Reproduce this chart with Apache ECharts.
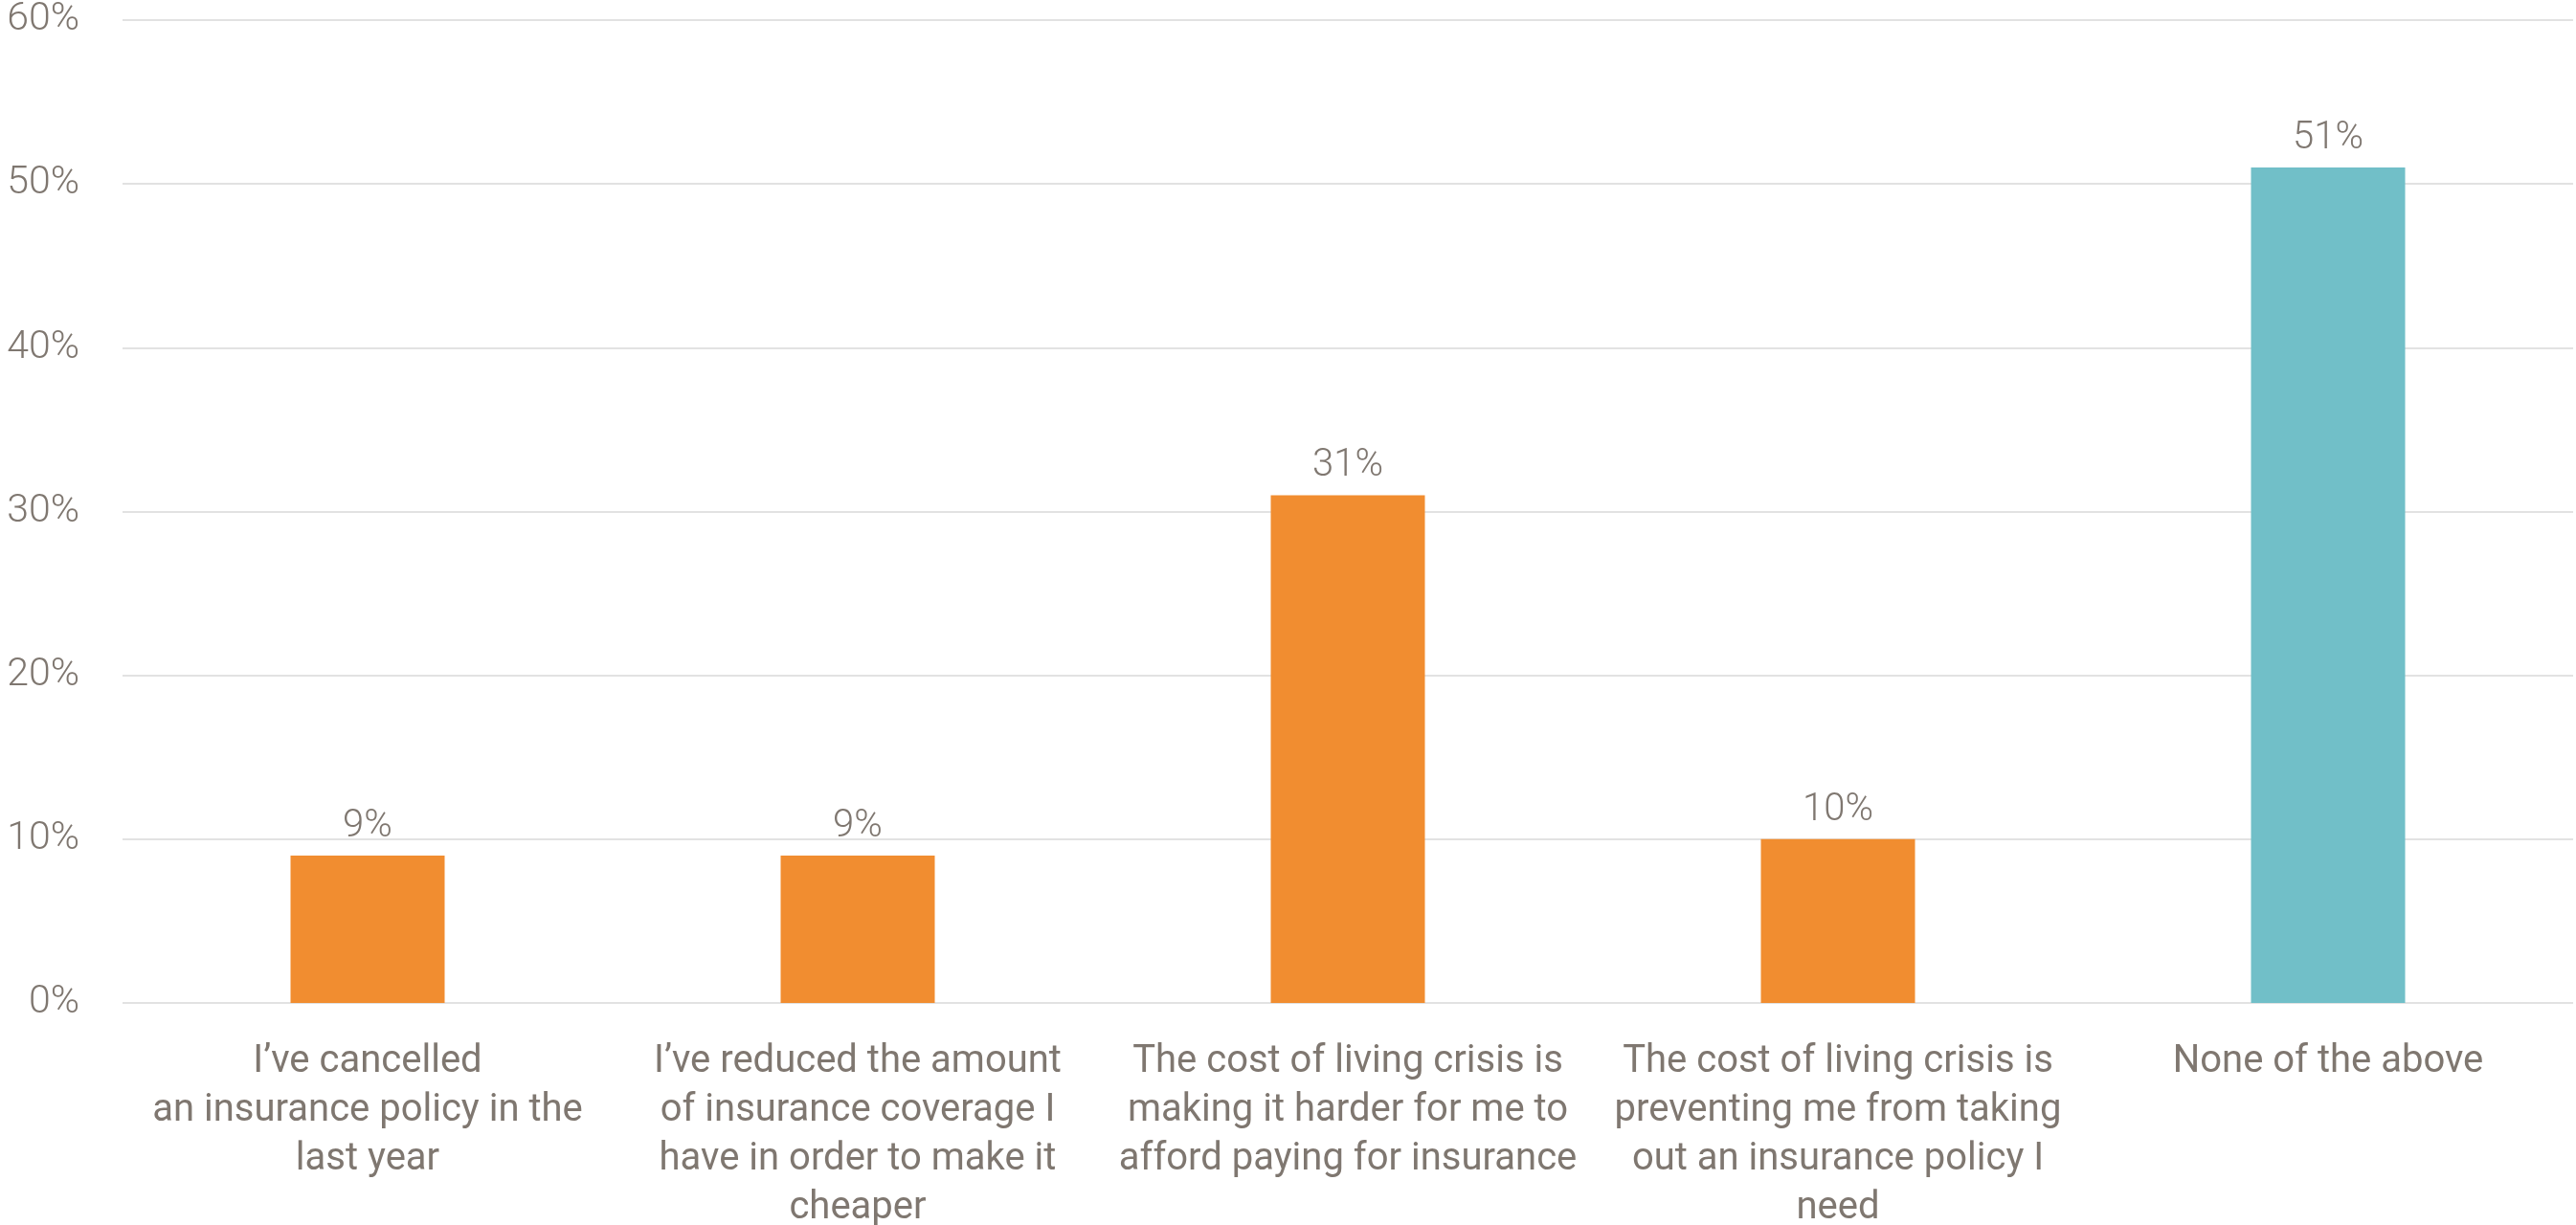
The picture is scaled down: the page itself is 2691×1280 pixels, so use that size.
<!DOCTYPE html>
<html>
<head>
<meta charset="utf-8">
<style>
  html, body { margin: 0; padding: 0; background: #ffffff; }
  #chart { width: 2691px; height: 1280px; }
</style>
<script src="https://cdn.jsdelivr.net/npm/echarts@6/dist/echarts.min.js"></script>
</head>
<body>
<div id="chart"></div>
<script>
// Survey responses on insurance and the cost of living
const categories = [
  "I\u2019ve cancelled\nan insurance policy in the\nlast year",
  "I\u2019ve reduced the amount\nof insurance coverage I\nhave in order to make it\ncheaper",
  "The cost of living crisis is\nmaking it harder for me to\nafford paying for insurance",
  "The cost of living crisis is\npreventing me from taking\nout an insurance policy I\nneed",
  "None of the above"
];
const values = [9, 9, 31, 10, 51];
const yTicks = [0, 10, 20, 30, 40, 50, 60];

const ORANGE = '#F18D30';
const TEAL = '#71BFC8';
const TEXT = '#7F7770';
const FONT = 'Roboto, "Noto Sans", sans-serif';

const chart = echarts.init(document.getElementById('chart'), null, { renderer: 'canvas' });

chart.setOption({
  animation: false,
  backgroundColor: '#ffffff',
  grid: {
    left: 128, right: 3, top: 21, bottom: 232,
    containLabel: false,
    outerBoundsMode: 'none'
  },
  xAxis: {
    type: 'category',
    data: categories,
    axisLine: { show: false },
    axisTick: { show: false },
    axisLabel: {
      interval: 0,
      margin: 36,
      color: TEXT,
      fontFamily: FONT,
      fontSize: 40,
      lineHeight: 51,
      align: 'center'
    }
  },
  yAxis: {
    type: 'value',
    min: yTicks[0],
    max: yTicks[yTicks.length - 1],
    interval: 10,
    axisLine: { show: false },
    axisTick: { show: false },
    splitLine: { show: true, lineStyle: { color: '#E2E2E2', width: 2 } },
    axisLabel: {
      margin: 45,
      color: TEXT,
      fontFamily: FONT,
      fontWeight: 300,
      fontSize: 41,
      formatter: v => v + '%'
    }
  },
  series: [{
    type: 'bar',
    barWidth: 161,
    data: values.map((v, i) => ({
      value: v,
      itemStyle: { color: i === values.length - 1 ? TEAL : ORANGE }
    })),
    label: {
      show: true,
      position: 'top',
      distance: 10,
      color: TEXT,
      fontFamily: FONT,
      fontWeight: 300,
      fontSize: 40,
      formatter: p => p.value + '%'
    }
  }]
});
</script>
</body>
</html>
